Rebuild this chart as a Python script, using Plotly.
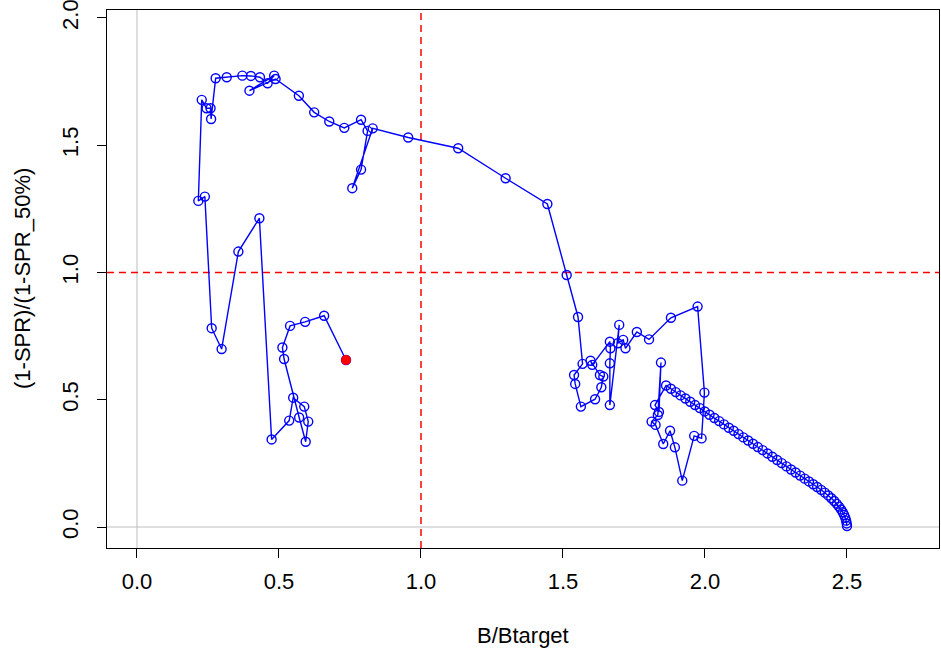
import plotly.graph_objects as go

# Trajectory in time order (B/Btarget, (1-SPR)/(1-SPR_50%))
b_ratio = [
    2.500, 2.499, 2.497, 2.494, 2.490, 2.485, 2.479, 2.472, 2.464, 2.455,
    2.445, 2.434, 2.422, 2.409, 2.395, 2.381, 2.366, 2.351, 2.335, 2.319,
    2.303, 2.287, 2.270, 2.254, 2.237, 2.220, 2.203, 2.186, 2.169, 2.152,
    2.135, 2.118, 2.101, 2.084, 2.067, 2.050, 2.033, 2.016, 1.999, 1.982,
    1.965, 1.948, 1.931, 1.914, 1.897, 1.880, 1.863,
    1.824, 1.838, 1.845, 1.834, 1.812, 1.826, 1.853, 1.877, 1.894, 1.920,
    1.962, 1.988, 1.998, 1.974, 1.880, 1.803, 1.760, 1.720, 1.712, 1.693,
    1.698, 1.665, 1.665, 1.667, 1.665, 1.603, 1.597, 1.630, 1.642, 1.635,
    1.613, 1.563, 1.543, 1.539, 1.569, 1.553, 1.513, 1.445, 1.298, 1.131,
    0.955, 0.830, 0.758, 0.789, 0.812, 0.789, 0.730, 0.677, 0.624, 0.570,
    0.488, 0.396, 0.483, 0.460, 0.433, 0.401, 0.371, 0.316, 0.277, 0.261,
    0.259, 0.245, 0.228, 0.216, 0.239, 0.263, 0.298, 0.357, 0.431, 0.474,
    0.536, 0.550, 0.589, 0.603, 0.594, 0.571, 0.518, 0.512, 0.539, 0.592,
    0.659, 0.736,
]
spr_ratio = [
    0.004, 0.014, 0.025, 0.036, 0.047, 0.058, 0.069, 0.080, 0.091, 0.102,
    0.113, 0.124, 0.135, 0.146, 0.157, 0.168, 0.179, 0.190, 0.202, 0.214,
    0.226, 0.238, 0.251, 0.263, 0.276, 0.289, 0.302, 0.314, 0.327, 0.340,
    0.352, 0.365, 0.378, 0.390, 0.403, 0.416, 0.428, 0.441, 0.454, 0.467,
    0.479, 0.492, 0.505, 0.517, 0.530, 0.543, 0.556,
    0.479, 0.452, 0.646, 0.440, 0.414, 0.401, 0.326, 0.378, 0.313, 0.182,
    0.358, 0.348, 0.528, 0.866, 0.822, 0.737, 0.766, 0.702, 0.735, 0.722,
    0.794, 0.479, 0.643, 0.702, 0.728, 0.637, 0.653, 0.597, 0.591, 0.549,
    0.502, 0.473, 0.562, 0.597, 0.641, 0.825, 0.990, 1.269, 1.370, 1.488,
    1.530, 1.566, 1.331, 1.404, 1.556, 1.600, 1.568, 1.593, 1.629, 1.694,
    1.760, 1.714, 1.773, 1.743, 1.767, 1.772, 1.773, 1.767, 1.763, 1.603,
    1.645, 1.645, 1.678, 1.281, 1.298, 0.781, 0.699, 1.082, 1.213, 0.344,
    0.418, 0.508, 0.473, 0.414, 0.335, 0.430, 0.660, 0.705, 0.790, 0.806,
    0.830, 0.656,
]

x_ticks = [0.0, 0.5, 1.0, 1.5, 2.0, 2.5]
x_tick_labels = ["0.0", "0.5", "1.0", "1.5", "2.0", "2.5"]
y_ticks = [0.0, 0.5, 1.0, 1.5, 2.0]
y_tick_labels = ["0.0", "0.5", "1.0", "1.5", "2.0"]
target_line = 1.0
x_title = "B/Btarget"
y_title = "(1-SPR)/(1-SPR_50%)"

FONT = "Liberation Sans, Arial, Helvetica, sans-serif"
FS = 22
x_range = [-0.1056, 2.824]
y_range = [-0.0825, 2.031]

W, H = 941, 650
L, R, T, B = 107, 2, 10, 102
PW, PH = W - L - R, H - T - B

fig = go.Figure()

# reference gray lines at 0
fig.add_shape(type="line", xref="x", yref="paper", x0=0, x1=0, y0=0, y1=1,
              line=dict(color="#BEBEBE", width=1), layer="below")
fig.add_shape(type="line", xref="paper", yref="y", x0=0, x1=1, y0=0, y1=0,
              line=dict(color="#BEBEBE", width=1), layer="below")
# red dashed target lines
fig.add_shape(type="line", xref="x", yref="paper", x0=target_line, x1=target_line, y0=0, y1=1,
              line=dict(color="#FF0000", width=1.5, dash="7px,5px"), layer="below")
fig.add_shape(type="line", xref="paper", yref="y", x0=0, x1=1, y0=target_line, y1=target_line,
              line=dict(color="#FF0000", width=1.5, dash="7px,5px"), layer="below")

fig.add_trace(go.Scatter(
    x=b_ratio, y=spr_ratio, mode="lines+markers",
    line=dict(color="#0000FF", width=1.4),
    marker=dict(symbol="circle-open", size=9, color="#0000FF", line=dict(width=1.4, color="#0000FF")),
    showlegend=False, hoverinfo="x+y",
))
fig.add_trace(go.Scatter(
    x=[b_ratio[-1]], y=[spr_ratio[-1]], mode="markers",
    marker=dict(symbol="circle", size=10, color="#FF0000", line=dict(width=0)),
    showlegend=False, hoverinfo="x+y",
))

fig.update_layout(
    width=W, height=H,
    margin=dict(l=L, r=R, t=T, b=B),
    paper_bgcolor="white", plot_bgcolor="white",
    font=dict(family=FONT, size=FS, color="black"),
    xaxis=dict(range=x_range, tickvals=x_ticks, ticktext=x_tick_labels,
               showgrid=False, zeroline=False, showline=True, mirror=True,
               linecolor="black", linewidth=1, ticks="outside", ticklen=9,
               tickcolor="black", ticklabelstandoff=5, automargin=False,
               ticklabeloverflow="allow",
               tickfont=dict(family=FONT, size=FS, color="black")),
    yaxis=dict(range=y_range, tickvals=y_ticks, ticktext=y_tick_labels,
               showgrid=False, zeroline=False, showline=True, mirror=True,
               linecolor="black", linewidth=1, ticks="outside", ticklen=9,
               tickcolor="black", tickangle=-90, ticklabelstandoff=10, automargin=False,
               ticklabeloverflow="allow",
               tickfont=dict(family=FONT, size=FS, color="black")),
    annotations=[
        dict(text=x_title, xref="paper", yref="paper", x=0.5, y=-(635 - 548) / PH,
             xanchor="center", yanchor="middle", showarrow=False,
             font=dict(family=FONT, size=FS, color="black")),
        dict(text=y_title, xref="paper", yref="paper", x=-(107 - 22) / PW, y=0.5,
             xanchor="center", yanchor="middle", showarrow=False, textangle=-90,
             font=dict(family=FONT, size=FS, color="black")),
    ],
)

fig.write_html("out.html", config={"displayModeBar": False},
               post_script="document.body.style.margin='0';")
